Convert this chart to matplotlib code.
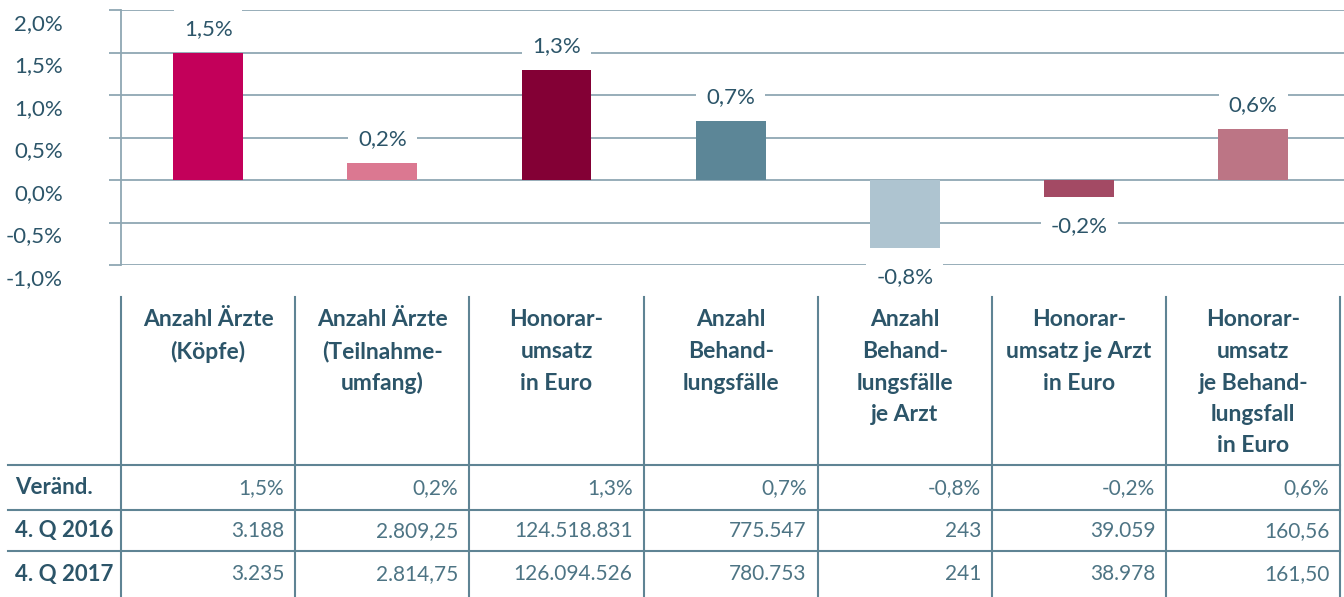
import matplotlib.pyplot as plt
from matplotlib.ticker import FuncFormatter
from matplotlib.transforms import ScaledTranslation

plt.rcParams['font.family'] = ['Lato', 'DejaVu Sans']

# data
categories = ["Anzahl Ärzte\n(Köpfe)",
              "Anzahl Ärzte\n(Teilnahme-\numfang)",
              "Honorar-\numsatz\nin Euro",
              "Anzahl\nBehand-\nlungsfälle",
              "Anzahl\nBehand-\nlungsfälle\nje Arzt",
              "Honorar-\numsatz je Arzt\nin Euro",
              "Honorar-\numsatz\nje Behand-\nlungsfall\nin Euro"]
change = [1.5, 0.2, 1.3, 0.7, -0.8, -0.2, 0.6]
row_labels = ["Veränd.", "4. Q 2016", "4. Q 2017"]
q4_2016 = ["3.188", "2.809,25", "124.518.831", "775.547", "243", "39.059", "160,56"]
q4_2017 = ["3.235", "2.814,75", "126.094.526", "780.753", "241", "38.978", "161,50"]
bar_colors = ["#C3005A", "#DB7891", "#830035", "#5C8697", "#AEC4D0", "#A34A64", "#BC7585"]

dark = "#2C5569"
light = "#4D7484"
grid_c = "#8FA7B3"


def fmt_pct(v):
    return ("%.1f%%" % v).replace(".", ",")


W, H = 1344, 597
fig = plt.figure(figsize=(W / 100, H / 100), dpi=100)

# chart area (pixel layout -> figure fractions)
x0, x1 = 121, 1344
ytop, ybot = 10, 265
colw = 174.2
ax = fig.add_axes([x0 / W, 1 - ybot / H, (x1 - x0) / W, (ybot - ytop) / H])
xs = list(range(len(change)))
ax.bar(xs, change, width=0.4, color=bar_colors, zorder=3)
ax.set_xlim(-0.5, -0.5 + (x1 - x0) / colw)
ax.set_ylim(-1.0, 2.0)
ax.set_yticks([-1.0, -0.5, 0, 0.5, 1.0, 1.5, 2.0])
ax.yaxis.set_major_formatter(FuncFormatter(lambda v, p: fmt_pct(v)))
ax.grid(axis='y', color=grid_c, lw=1.3, zorder=0)
ax.tick_params(axis='y', length=9, width=1.3, color=grid_c, labelsize=16,
               labelcolor=dark, pad=33)
# labels sit a bit below their gridlines in the original
shift = ScaledTranslation(0, -12 / 100, fig.dpi_scale_trans)
for lab in ax.get_yticklabels():
    lab.set_horizontalalignment('right')
    lab.set_transform(lab.get_transform() + shift)
ax.tick_params(axis='x', length=0, labelbottom=False)
for s in ["top", "right", "bottom"]:
    ax.spines[s].set_visible(False)
ax.spines["left"].set_color(grid_c)
ax.spines["left"].set_linewidth(1.3)

for x, v in zip(xs, change):
    off = 17 if v >= 0 else -21
    ax.annotate(fmt_pct(v), (x, v), xytext=(0, off), textcoords='offset points',
                ha='center', va='center', fontsize=16, color=dark, zorder=4,
                bbox=dict(boxstyle='square,pad=0.45', fc='white', ec='none'))

# table area in pixel coordinates
tb = fig.add_axes([0, 0, 1, 1])
tb.set_xlim(0, W)
tb.set_ylim(H, 0)
tb.axis('off')
tb.patch.set_alpha(0)

for k in range(len(categories) + 1):
    tb.plot([x0 + k * colw] * 2, [297, H], color="#5F8494", lw=1.5)
for yl in [465, 510, 551]:
    tb.plot([8, 1340], [yl, yl], color="#5F8494", lw=1.5)

for i, cat in enumerate(categories):
    cx = x0 + (i + 0.5) * colw
    for j, line in enumerate(cat.split("\n")):
        tb.text(cx, 320 + j * 31.5, line, ha='center', va='center',
                fontsize=16.5, fontweight='bold', color=dark)

row_y = [488, 531, 574]
rows = [[fmt_pct(v) for v in change], q4_2016, q4_2017]
for ry, lab, vals in zip(row_y, row_labels, rows):
    tb.text(15, ry, lab, ha='left', va='center', fontsize=16,
            fontweight='bold', color=dark)
    for i, v in enumerate(vals):
        tb.text(x0 + (i + 1) * colw - 11, ry, v, ha='right', va='center',
                fontsize=15, color=light)

fig.savefig("out.png", dpi=100)
